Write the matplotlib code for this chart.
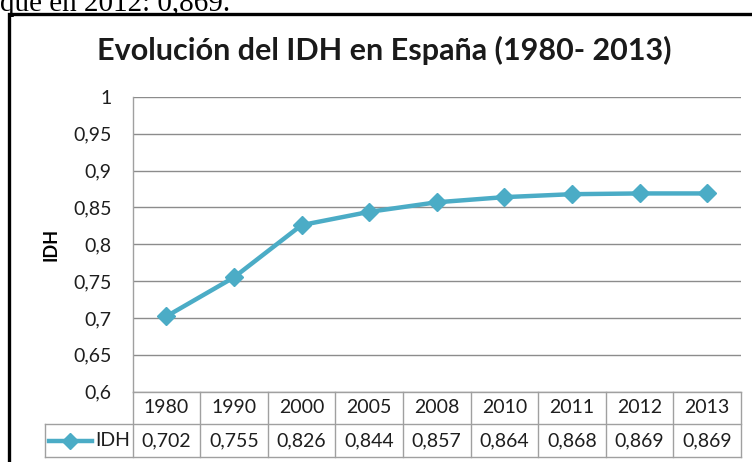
import matplotlib
matplotlib.use("Agg")
import matplotlib.pyplot as plt
from matplotlib.lines import Line2D
from matplotlib.patches import Rectangle

years = ["1980", "1990", "2000", "2005", "2008", "2010", "2011", "2012", "2013"]
idh = [0.702, 0.755, 0.826, 0.844, 0.857, 0.864, 0.868, 0.869, 0.869]
yticks = [0.6, 0.65, 0.7, 0.75, 0.8, 0.85, 0.9, 0.95, 1.0]
series_name = "IDH"
title = "Evolución del IDH en España (1980- 2013)"
caption = "que en 2012: 0,869."

W, H = 752, 462
fig = plt.figure(figsize=(W / 100, H / 100), dpi=100)
fig.patch.set_facecolor("white")

def fx(px):
    return px / W

def fy(py):
    return 1 - py / H

font = "Lato"
color = "#4BACC6"
grid_c = "#8c8c8c"
tab_c = "#a0a0a0"
txt_c = "#1e1e1e"
fs = 14

# outer black frame
fig.add_artist(Rectangle((fx(8.5), fy(470)), fx(760) - fx(8.5), fy(13.5) - fy(470),
                         transform=fig.transFigure, fill=False, edgecolor="black",
                         linewidth=2.4, clip_on=False))

# caption text cut off at top (as in the reference)
fig.text(fx(0), fy(11), caption, family="Liberation Serif", fontsize=21,
         ha="left", va="baseline", color="black")

left, right, top, bottom = 132.5, 741, 97, 391.5
ax = fig.add_axes([fx(left), fy(bottom), fx(right) - fx(left), fy(top) - fy(bottom)])
n = len(years)
x = list(range(n))
ax.set_xlim(-0.5, n - 0.5)
ax.set_ylim(0.6, 1.0)
ax.set_yticks(yticks)
ax.set_yticklabels([("%g" % t).replace(".", ",") for t in yticks],
                   family=font, fontsize=fs, color=txt_c)
ax.set_xticks([])
ax.tick_params(axis="y", length=0, pad=15)
for s in ["top", "right", "bottom"]:
    ax.spines[s].set_visible(False)
ax.spines["left"].set_color(tab_c)
ax.spines["left"].set_linewidth(1)
ax.grid(axis="y", color=grid_c, linewidth=1)
ax.set_axisbelow(True)
ax.plot(x, idh, color=color, linewidth=3.2, marker="D", markersize=9,
        markerfacecolor=color, markeredgecolor=color, solid_joinstyle="round",
        zorder=3, clip_on=False)
ax.set_ylabel(series_name, family=font, fontsize=13, fontweight="bold", labelpad=10)

fig.text(fx(384), fy(50), title, family=font, fontsize=22, fontweight="bold",
         ha="center", va="center", color="#1a1a1a")

# data table
col_w = (right - left) / n
r0, r1, r2 = 391.5, 424, 457
legend_left = 45
def hline(y, x0, x1):
    fig.add_artist(Line2D([fx(x0), fx(x1)], [fy(y), fy(y)], transform=fig.transFigure,
                          color=tab_c, linewidth=1))
def vline(xp, y0, y1):
    fig.add_artist(Line2D([fx(xp), fx(xp)], [fy(y0), fy(y1)], transform=fig.transFigure,
                          color=tab_c, linewidth=1))

hline(r0, left, right)
hline(r1, legend_left, right)
hline(r2, legend_left, right)
vline(legend_left, r1, r2)
vline(left, r0, r2)
for i in range(n):
    xr = left + col_w * (i + 1)
    vline(xr, r0, r2)
    xc = left + col_w * (i + 0.5)
    fig.text(fx(xc), fy((r0 + r1) / 2), years[i], family=font, fontsize=fs,
             ha="center", va="center", color=txt_c)
    fig.text(fx(xc), fy((r1 + r2) / 2), ("%.3f" % idh[i]).replace(".", ","),
             family=font, fontsize=fs, ha="center", va="center", color=txt_c)

# legend key in table
ym = (r1 + r2) / 2
fig.add_artist(Line2D([fx(49), fx(92)], [fy(ym), fy(ym)], transform=fig.transFigure,
                      color=color, linewidth=3.2))
fig.add_artist(Line2D([fx(70)], [fy(ym)], transform=fig.transFigure, color=color,
                      marker="D", markersize=8, linestyle="none"))
fig.text(fx(95), fy(ym), series_name, family=font, fontsize=fs, ha="left", va="center",
         color=txt_c)

fig.savefig("out.png", dpi=100, facecolor="white")
